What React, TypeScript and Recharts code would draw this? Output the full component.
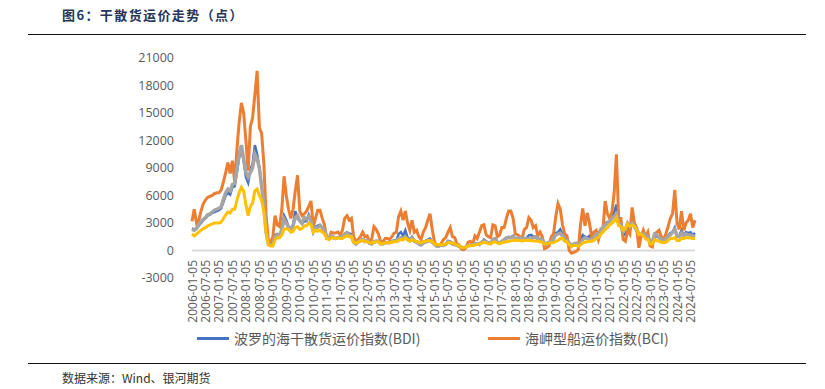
import { LineChart, Line, XAxis, YAxis, ReferenceLine, Legend } from 'recharts';

// monthly points, 2006-01 .. 2024-09
const dates: string[] = [];
for (let y = 2006; y <= 2024; y++) {
  for (let m = 1; m <= 12; m++) {
    if (dates.length < 225) dates.push(`${y}-${String(m).padStart(2, '0')}-05`);
  }
}

const bdi = [
  2400, 2300, 2450, 2700, 3000, 3300, 3500, 3800, 3900, 4100, 4200, 4300, // 2006
  4400, 4600, 5300, 6000, 6300, 6100, 6900, 7000, 8500, 10200, 11000, 9800, // 2007
  8000, 7400, 8800, 9500, 11500, 10500, 9000, 7000, 5500, 2500, 850, 700, // 2008
  850, 1700, 1800, 1550, 2300, 3800, 3300, 2600, 2400, 2800, 4300, 3500, // 2009
  3300, 2900, 3200, 3200, 3900, 3300, 2000, 2600, 2700, 2800, 2500, 1900, // 2010
  1400, 1200, 1500, 1350, 1350, 1450, 1350, 1400, 1800, 2000, 1850, 1800, // 2011
  900, 720, 850, 1050, 1100, 950, 1050, 750, 700, 1000, 1050, 1000, // 2012
  780, 770, 900, 850, 850, 1000, 1100, 1050, 1800, 2000, 1600, 2200, // 2013
  1400, 1200, 1500, 1100, 1000, 900, 750, 1000, 1050, 1200, 1300, 900, // 2014
  700, 540, 580, 600, 600, 700, 1050, 1000, 850, 750, 550, 480, // 2015
  380, 310, 390, 550, 600, 600, 700, 700, 800, 900, 1200, 1000, // 2016
  900, 750, 1150, 1250, 950, 850, 900, 1150, 1300, 1500, 1450, 1600, // 2017
  1200, 1150, 1100, 1050, 1300, 1350, 1650, 1700, 1500, 1550, 1100, 1300, // 2018
  1200, 650, 680, 750, 1000, 1100, 1900, 2000, 2300, 1800, 1400, 1300, // 2019
  750, 450, 600, 650, 450, 1100, 1700, 1500, 1400, 1600, 1200, 1300, // 2020
  1700, 1500, 2100, 2300, 3000, 3100, 3200, 3700, 4200, 5000, 2800, 2800, // 2021
  1700, 1800, 2500, 2200, 3000, 2500, 2200, 1400, 1600, 1800, 1300, 1500, // 2022
  800, 650, 1500, 1500, 1500, 1100, 1000, 1200, 1600, 1900, 2000, 2500, // 2023
  1500, 1600, 2200, 1600, 2000, 1900, 2000, 1700, 1900, // 2024
];

const bci = [
  3200, 4500, 3000, 3300, 4300, 5100, 5500, 5800, 5900, 6000, 6200, 6300,
  6300, 6600, 7500, 8500, 9600, 8400, 9800, 7500, 11000, 14000, 16100, 15000,
  12000, 8700, 13500, 14500, 17000, 19600, 13400, 12800, 9500, 3800, 1100, 900,
  1500, 3800, 2800, 2600, 4500, 8100, 6000, 4500, 3500, 4500, 6500, 8200,
  4300, 3800, 4000, 4300, 4800, 5400, 2600, 3500, 4400, 4400, 3500, 2800,
  1300, 1300, 2000, 1900, 1900, 2000, 1700, 2200, 3500, 3800, 3300, 3500,
  1500, 1000, 1200, 1500, 2000, 1500, 1600, 1000, 1200, 2600, 2300, 1800,
  1000, 900, 1300, 1300, 1200, 1500, 1900, 2000, 3700, 4300, 3300, 4300,
  3000, 2200, 3300, 2000, 2200, 1500, 1200, 2000, 2500, 3300, 4000, 2300,
  900, 600, 500, 800, 1200, 1400, 2000, 2500, 1500, 1400, 700, 600,
  150, 100, 300, 900, 1000, 700, 1600, 1300, 2000, 2700, 2800, 1700,
  1500, 1400, 2800, 2700, 1500, 1700, 2500, 2500, 3500, 4300, 4300, 3500,
  1800, 1700, 1500, 1300, 2300, 2500, 3600, 3300, 2500, 2700, 1600, 2000,
  1500, 200, 300, 500, 1500, 1800, 3700, 5100, 4500, 2800, 1800, 1600,
  0, -300, -200, -100, 100, 2800, 4600, 2700, 4100, 3000, 1500, 2000,
  2200, 1200, 2000, 2300, 5400, 4000, 3500, 4200, 6300, 10500, 3500, 3500,
  1200, 1000, 2200, 1800, 4700, 3000, 2500, 300, 1500, 2200, 1500, 2000,
  500, 400, 1800, 2000, 2200, 1500, 1200, 1800, 2600, 3500, 4000, 6600,
  3000, 2300, 4300, 2200, 3000, 3300, 4000, 2500, 3300,
];

const bpi = [
  2300, 2200, 2400, 2800, 3200, 3400, 3600, 3900, 4000, 4200, 4400, 4500,
  4600, 4800, 5600, 6300, 6700, 6500, 7200, 7300, 8900, 10500, 11500, 10000,
  8500, 8000, 8500, 9000, 10500, 10000, 9000, 7000, 5000, 2000, 700, 600,
  700, 1500, 1700, 1600, 2300, 3400, 3000, 2500, 2200, 2700, 3600, 3800,
  3200, 3000, 3600, 3400, 3700, 3200, 2100, 2500, 2500, 2700, 2500, 2200,
  1400, 1300, 1600, 1500, 1300, 1400, 1500, 1500, 1800, 1900, 1700, 1600,
  900, 700, 950, 1150, 1200, 1000, 1100, 800, 700, 900, 1000, 1000,
  700, 700, 850, 850, 850, 950, 1000, 1000, 1300, 1400, 1300, 1500,
  1200, 1100, 1400, 1000, 900, 700, 600, 800, 900, 1000, 1100, 900,
  650, 450, 500, 600, 550, 650, 950, 900, 700, 650, 550, 450,
  350, 300, 400, 550, 550, 600, 750, 700, 650, 900, 1100, 900,
  800, 750, 1200, 1300, 900, 800, 1000, 1200, 1400, 1400, 1400, 1500,
  1300, 1300, 1400, 1300, 1300, 1300, 1200, 1300, 1400, 1500, 1300, 1200,
  1200, 750, 800, 900, 1000, 1300, 1700, 1800, 1900, 1600, 1200, 1100,
  800, 500, 700, 800, 600, 700, 1200, 1400, 1300, 1200, 1200, 1400,
  1800, 1700, 2300, 2500, 2800, 3000, 3200, 3500, 3700, 4000, 3000, 2800,
  2100, 2300, 3000, 2700, 3000, 2700, 2300, 1800, 1800, 1800, 1700, 1500,
  1000, 900, 1800, 1700, 1400, 1200, 1100, 1300, 1500, 1700, 2000, 2300,
  1600, 1500, 1900, 1600, 1800, 1700, 1700, 1600, 1500,
];

const bsi = [
  1800, 1600, 1800, 2000, 2200, 2400, 2500, 2700, 2800, 2900, 3000, 3000,
  3000, 3100, 3500, 3900, 4200, 4100, 4500, 4500, 5500, 6300, 6900, 6500,
  5000, 3800, 4800, 5200, 6500, 6700, 6000, 5500, 4200, 2000, 600, 500,
  500, 1200, 1400, 1400, 1700, 2300, 2400, 2300, 2000, 2100, 2500, 2600,
  2300, 2400, 2700, 2700, 3000, 2800, 2000, 2200, 2100, 2200, 2000, 1800,
  1300, 1200, 1400, 1400, 1300, 1400, 1300, 1300, 1500, 1600, 1500, 1500,
  900, 800, 900, 1050, 1100, 950, 950, 850, 800, 900, 950, 950,
  750, 750, 850, 850, 850, 900, 950, 950, 1100, 1200, 1150, 1350,
  1200, 1000, 1200, 1050, 1000, 900, 850, 950, 1000, 1100, 1100, 950,
  700, 600, 650, 650, 650, 700, 850, 850, 800, 750, 600, 500,
  330, 300, 380, 500, 550, 550, 600, 650, 700, 800, 900, 850,
  750, 750, 900, 950, 800, 750, 850, 900, 950, 1000, 1050, 1100,
  1150, 1100, 1100, 1050, 1100, 1100, 1100, 1100, 1050, 1050, 1000, 950,
  900, 700, 750, 800, 850, 850, 1000, 1100, 1300, 1300, 1000, 950,
  600, 450, 550, 550, 450, 600, 800, 900, 950, 1000, 1000, 1100,
  1300, 1400, 1800, 2000, 2300, 2500, 2800, 3000, 3200, 3600, 2700, 2600,
  2200, 2400, 2900, 2600, 2800, 2600, 2300, 1700, 1800, 1600, 1300, 1200,
  700, 700, 1200, 1100, 1000, 900, 850, 900, 1100, 1300, 1300, 1400,
  1100, 1100, 1300, 1300, 1400, 1400, 1350, 1300, 1300,
];

const yTicks = [-3000, 0, 3000, 6000, 9000, 12000, 15000, 18000, 21000];

const data = dates.map((d, i) => ({ date: d, bdi: bdi[i], bci: bci[i], bpi: bpi[i], bsi: bsi[i] }));

const axisFont = '"Open Sans", "Noto Sans CJK SC", sans-serif';
const cjkFont = '"Noto Sans CJK SC", sans-serif';

const DateTick = (props: any) => {
  const { x, y, payload } = props;
  return (
    <text
      transform={`translate(${x},${y - 26}) rotate(-90)`}
      textAnchor="end"
      dominantBaseline="central"
      fontSize={12}
      fontFamily={axisFont}
      fill="#595959"
    >
      {payload.value}
    </text>
  );
};

const legendLeft = [197, 488];

const renderLegend = (props: any) => {
  const items = (props.payload || []).filter((p: any) => p.type !== 'none');
  return (
    <div style={{ position: 'relative', width: 825, height: 24 }}>
      {items.map((p: any, i: number) => (
        <div
          key={p.value}
          style={{ position: 'absolute', left: legendLeft[i], top: 0, display: 'flex', alignItems: 'center', height: 24 }}
        >
          <span style={{ display: 'inline-block', width: 32, height: 3, background: p.color, marginRight: 5 }} />
          <span style={{ fontFamily: cjkFont, fontSize: 14, color: '#595959', whiteSpace: 'nowrap' }}>{p.value}</span>
        </div>
      ))}
    </div>
  );
};

export default function App() {
  return (
    <div style={{ position: 'absolute', left: 0, top: 0, width: 825, height: 389, background: '#fff' }}>
      <div
        style={{
          position: 'absolute', left: 62, top: 5, fontFamily: cjkFont, fontWeight: 700,
          fontSize: 13, color: '#26365a', letterSpacing: 1.4, whiteSpace: 'nowrap',
        }}
      >
        图6：干散货运价走势（点）
      </div>
      <div style={{ position: 'absolute', left: 28, top: 34, width: 778, height: 0, borderTop: '1.5px solid #111' }} />

      <LineChart
        width={825}
        height={389}
        data={data}
        margin={{ top: 58, right: 130, bottom: 0, left: 132 }}
        style={{ position: 'absolute', left: 0, top: 0 }}
      >
        <XAxis
          dataKey="date"
          interval={5}
          axisLine={false}
          tickLine={false}
          height={111}
          tick={<DateTick />}
        />
        <YAxis
          width={60}
          domain={[-3000, 21000]}
          ticks={yTicks}
          axisLine={false}
          tickLine={false}
          tickMargin={12}
          tick={{ fontSize: 12.5, fill: '#595959', fontFamily: axisFont }}
        />
        <ReferenceLine y={0} stroke="#d9d9d9" strokeWidth={2} />
        <Line dataKey="bdi" name="波罗的海干散货运价指数(BDI)" stroke="#4472C4" strokeWidth={2.5} dot={false} isAnimationActive={false} />
        <Line dataKey="bci" name="海岬型船运价指数(BCI)" stroke="#ED7D31" strokeWidth={3} dot={false} isAnimationActive={false} />
        <Line dataKey="bpi" name="BPI" stroke="#A5A5A5" strokeWidth={3.5} dot={false} legendType="none" isAnimationActive={false} />
        <Line dataKey="bsi" name="BSI" stroke="#FFC000" strokeWidth={3} dot={false} legendType="none" isAnimationActive={false} />
        <Legend
          layout="horizontal"
          verticalAlign="middle"
          content={renderLegend}
          wrapperStyle={{ left: 0, top: 326, width: 825, height: 24 }}
        />
      </LineChart>

      <div style={{ position: 'absolute', left: 28, top: 363, width: 778, height: 0, borderTop: '1.5px solid #111' }} />
      <div
        style={{
          position: 'absolute', left: 62, top: 369, fontFamily: cjkFont, fontSize: 12,
          color: '#333', whiteSpace: 'nowrap',
        }}
      >
        数据来源：Wind、银河期货
      </div>
    </div>
  );
}
